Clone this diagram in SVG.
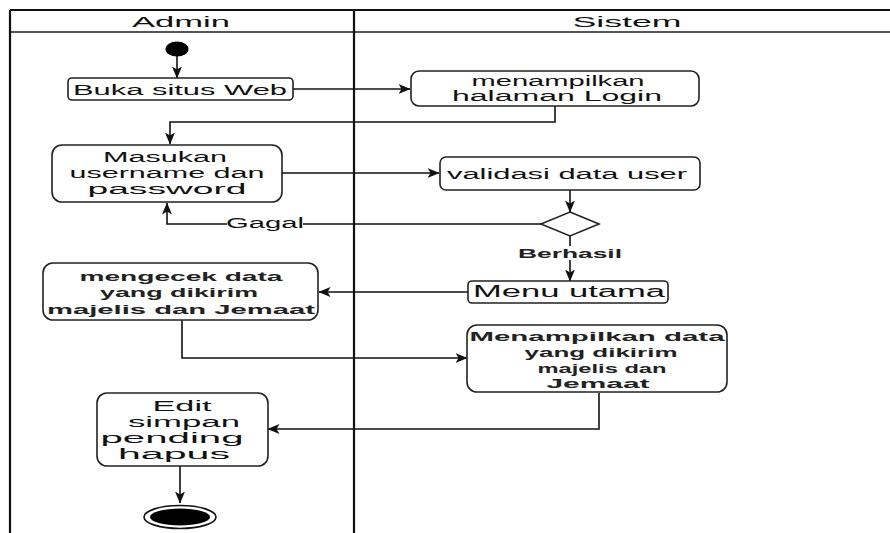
<svg xmlns="http://www.w3.org/2000/svg" width="890" height="533" viewBox="0 0 890 533">
<style>
  text { font-family: "Liberation Sans", Arial, sans-serif; font-size: 14px; fill: #111; text-anchor: middle; }
  .b { font-weight: bold; font-size: 12px; fill: #222; }
  .e { font-size: 14px; }
  .box { fill: #fff; stroke: #222; stroke-width: 1.6; }
  .conn { fill: none; stroke: #111; stroke-width: 1.6; }
  .frame { stroke: #111; stroke-width: 2.2; fill: none; }
</style>
<defs>
  <marker id="ah" viewBox="0 0 12 10" refX="11.5" refY="5" markerWidth="12" markerHeight="10" markerUnits="userSpaceOnUse" orient="auto">
    <path d="M0,0 L12,5 L0,10 L3,5 Z" fill="#111"/>
  </marker>
</defs>
<rect width="890" height="533" fill="#fff"/>

<g id="lanes">
  <line class="frame" x1="10" y1="10" x2="890" y2="10"/>
  <line x1="10" y1="32" x2="890" y2="32" stroke="#555" stroke-width="2"/>
  <line class="frame" x1="10" y1="10" x2="10" y2="533"/>
  <line class="frame" x1="354" y1="10" x2="354" y2="533"/>
  <text x="181" y="27" textLength="98" lengthAdjust="spacingAndGlyphs">Admin</text>
  <text x="627" y="27" textLength="109" lengthAdjust="spacingAndGlyphs">Sistem</text>
</g>

<g id="connectors">
  <line class="conn" x1="177" y1="55" x2="177" y2="78" marker-end="url(#ah)"/>
  <line class="conn" x1="293" y1="89" x2="410" y2="89" marker-end="url(#ah)"/>
  <polyline class="conn" points="555,106 555,122 170,122 170,144" marker-end="url(#ah)"/>
  <line class="conn" x1="282" y1="173" x2="439" y2="173" marker-end="url(#ah)"/>
  <line class="conn" x1="570" y1="190" x2="570" y2="212" marker-end="url(#ah)"/>
  <polyline class="conn" points="541,224 167,224 167,203" marker-end="url(#ah)"/>
  <line class="conn" x1="570" y1="236" x2="570" y2="281" marker-end="url(#ah)"/>
  <line class="conn" x1="468" y1="292" x2="319" y2="292" marker-end="url(#ah)"/>
  <polyline class="conn" points="182,320 182,358 467,358" marker-end="url(#ah)"/>
  <polyline class="conn" points="599,393 599,429 268,429" marker-end="url(#ah)"/>
  <line class="conn" x1="180" y1="466" x2="180" y2="503" marker-end="url(#ah)"/>
  <rect x="227" y="215" width="76" height="16" fill="#fff"/>
  <text x="265" y="228" textLength="78" lengthAdjust="spacingAndGlyphs">Gagal</text>
  <rect x="520" y="246" width="100" height="14" fill="#fff"/>
  <text class="b" x="570" y="258" textLength="104" lengthAdjust="spacingAndGlyphs">Berhasil</text>
</g>

<g id="start">
  <ellipse cx="177" cy="49" rx="11.5" ry="7.5" fill="#000"/>
</g>

<g id="buka">
  <rect class="box" x="68" y="78" width="225" height="22" rx="4"/>
  <text x="180" y="95" textLength="214" lengthAdjust="spacingAndGlyphs">Buka situs Web</text>
</g>

<g id="login">
  <rect class="box" x="411" y="71" width="288" height="35" rx="8"/>
  <text x="558" y="86" textLength="173" lengthAdjust="spacingAndGlyphs">menampilkan</text>
  <text x="557" y="101" textLength="210" lengthAdjust="spacingAndGlyphs">halaman Login</text>
</g>

<g id="masukan">
  <rect class="box" x="52" y="145" width="230" height="57" rx="10"/>
  <text x="165" y="162" textLength="124" lengthAdjust="spacingAndGlyphs">Masukan</text>
  <text x="167" y="178" textLength="195" lengthAdjust="spacingAndGlyphs">username dan</text>
  <text x="167" y="194" textLength="159" lengthAdjust="spacingAndGlyphs">password</text>
</g>

<g id="validasi">
  <rect class="box" x="440" y="157" width="260" height="33" rx="6"/>
  <text x="567" y="179" textLength="240" lengthAdjust="spacingAndGlyphs">validasi data user</text>
</g>

<g id="decision">
  <polygon points="570,212 599,224 570,236 541,224" fill="#fff" stroke="#222" stroke-width="1.6"/>
</g>

<g id="menu">
  <rect class="box" x="468" y="281" width="200" height="22" rx="4"/>
  <text x="569" y="297" textLength="192" lengthAdjust="spacingAndGlyphs" style="font-size:16px">Menu utama</text>
</g>

<g id="mengecek">
  <rect class="box" x="43" y="263" width="275" height="57" rx="10"/>
  <text class="b" x="181" y="281" textLength="203" lengthAdjust="spacingAndGlyphs">mengecek data</text>
  <text class="b" x="179" y="297" textLength="158" lengthAdjust="spacingAndGlyphs">yang dikirim</text>
  <text class="b" x="181" y="314" textLength="268" lengthAdjust="spacingAndGlyphs">majelis dan Jemaat</text>
</g>

<g id="menampilkan">
  <rect class="box" x="467" y="325" width="260" height="67" rx="10"/>
  <text class="b" x="597" y="341" textLength="255" lengthAdjust="spacingAndGlyphs">Menampilkan data</text>
  <text class="b" x="601" y="357" textLength="153" lengthAdjust="spacingAndGlyphs">yang dikirim</text>
  <text class="b" x="602" y="373" textLength="129" lengthAdjust="spacingAndGlyphs">majelis dan</text>
  <text class="b" x="598" y="388" textLength="103" lengthAdjust="spacingAndGlyphs">Jemaat</text>
</g>

<g id="edit">
  <rect class="box" x="97" y="393" width="171" height="73" rx="10"/>
  <text class="e" x="182" y="411" textLength="59" lengthAdjust="spacingAndGlyphs">Edit</text>
  <text class="e" x="184" y="427" textLength="112" lengthAdjust="spacingAndGlyphs">simpan</text>
  <text class="e" x="172" y="443" textLength="143" lengthAdjust="spacingAndGlyphs">pending</text>
  <text class="e" x="174" y="459" textLength="112" lengthAdjust="spacingAndGlyphs">hapus</text>
</g>

<g id="end">
  <ellipse cx="180" cy="517" rx="36" ry="11.5" fill="#fff" stroke="#111" stroke-width="1.6"/>
  <ellipse cx="180" cy="517" rx="30" ry="8.5" fill="#000"/>
</g>
</svg>
